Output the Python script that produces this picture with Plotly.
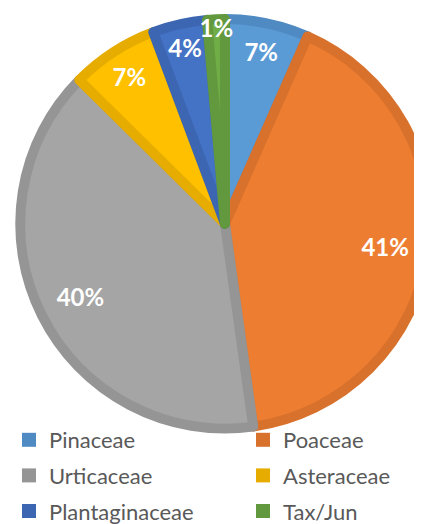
import plotly.graph_objects as go

labels = ["Pinaceae", "Poaceae", "Urticaceae", "Asteraceae", "Plantaginaceae", "Tax/Jun"]
values = [6.6, 41.2, 39.6, 6.9, 4.3, 1.4]
fill_colors = ["#5B9BD5", "#ED7D31", "#A5A5A5", "#FFC000", "#4472C4", "#70AD47"]
edge_colors = ["#4F8AC2", "#D7712C", "#959595", "#E6AD00", "#3C66B1", "#62993E"]
legend_columns = ["legend", "legend2", "legend", "legend2", "legend", "legend2"]

# the reference pie runs slightly past the right edge of the 422px window,
# so the figure is a little wider and the overflow is hidden
W, H = 436, 524
domain = dict(x=[0.0115, 0.9839], y=[0.1689, 0.9781])

fig = go.Figure(go.Pie(
    labels=labels,
    values=values,
    sort=False,
    direction="clockwise",
    rotation=0,
    marker=dict(colors=fill_colors, line=dict(color=edge_colors, width=10)),
    textinfo="none",
    domain=domain,
    showlegend=False,
    hoverinfo="label+percent",
))

# transparent rings used only to place the percentage labels toward the rim
# (large slices a bit further in than the narrow ones, as in the reference)
pct = "%{percent:.0%}"
big = [pct if v >= 20 else "" for v in values]
small = [pct if v < 20 else "" for v in values]
for hole, tmpl in ((0.58, big), (0.72, small)):
    fig.add_trace(go.Pie(
        labels=labels,
        values=values,
        sort=False,
        direction="clockwise",
        rotation=0,
        hole=hole,
        marker=dict(colors=["rgba(0,0,0,0)"] * len(labels), line=dict(width=0)),
        texttemplate=tmpl,
        textposition="inside",
        insidetextorientation="horizontal",
        textfont=dict(family="Lato", size=24, color="white", weight="bold"),
        domain=domain,
        showlegend=False,
        hoverinfo="skip",
    ))

# legend entries (two columns, as in the reference)
for lab, col, lg in zip(labels, edge_colors, legend_columns):
    fig.add_trace(go.Scatter(
        x=[None], y=[None], mode="markers", name=lab,
        marker=dict(symbol="square", size=14, color=col),
        legend=lg, legendgroup=lab, showlegend=True, hoverinfo="skip",
    ))

legend_common = dict(
    orientation="v",
    yanchor="top", xanchor="left",
    bgcolor="rgba(0,0,0,0)",
    font=dict(family="Lato", size=22, color="#595959"),
    traceorder="grouped",
    tracegroupgap=4,
)

fig.update_layout(
    width=W,
    height=H,
    margin=dict(l=0, r=0, t=0, b=0),
    paper_bgcolor="white",
    plot_bgcolor="white",
    uniformtext=dict(minsize=24, mode="show"),
    showlegend=True,
    xaxis=dict(visible=False),
    yaxis=dict(visible=False),
    legend=dict(x=1 / W, y=0.187, **legend_common),
    legend2=dict(x=235 / W, y=0.187, **legend_common),
)

fig.write_html(
    "out.html",
    post_script="document.documentElement.style.overflow='hidden';"
                "document.body.style.overflow='hidden';",
)
